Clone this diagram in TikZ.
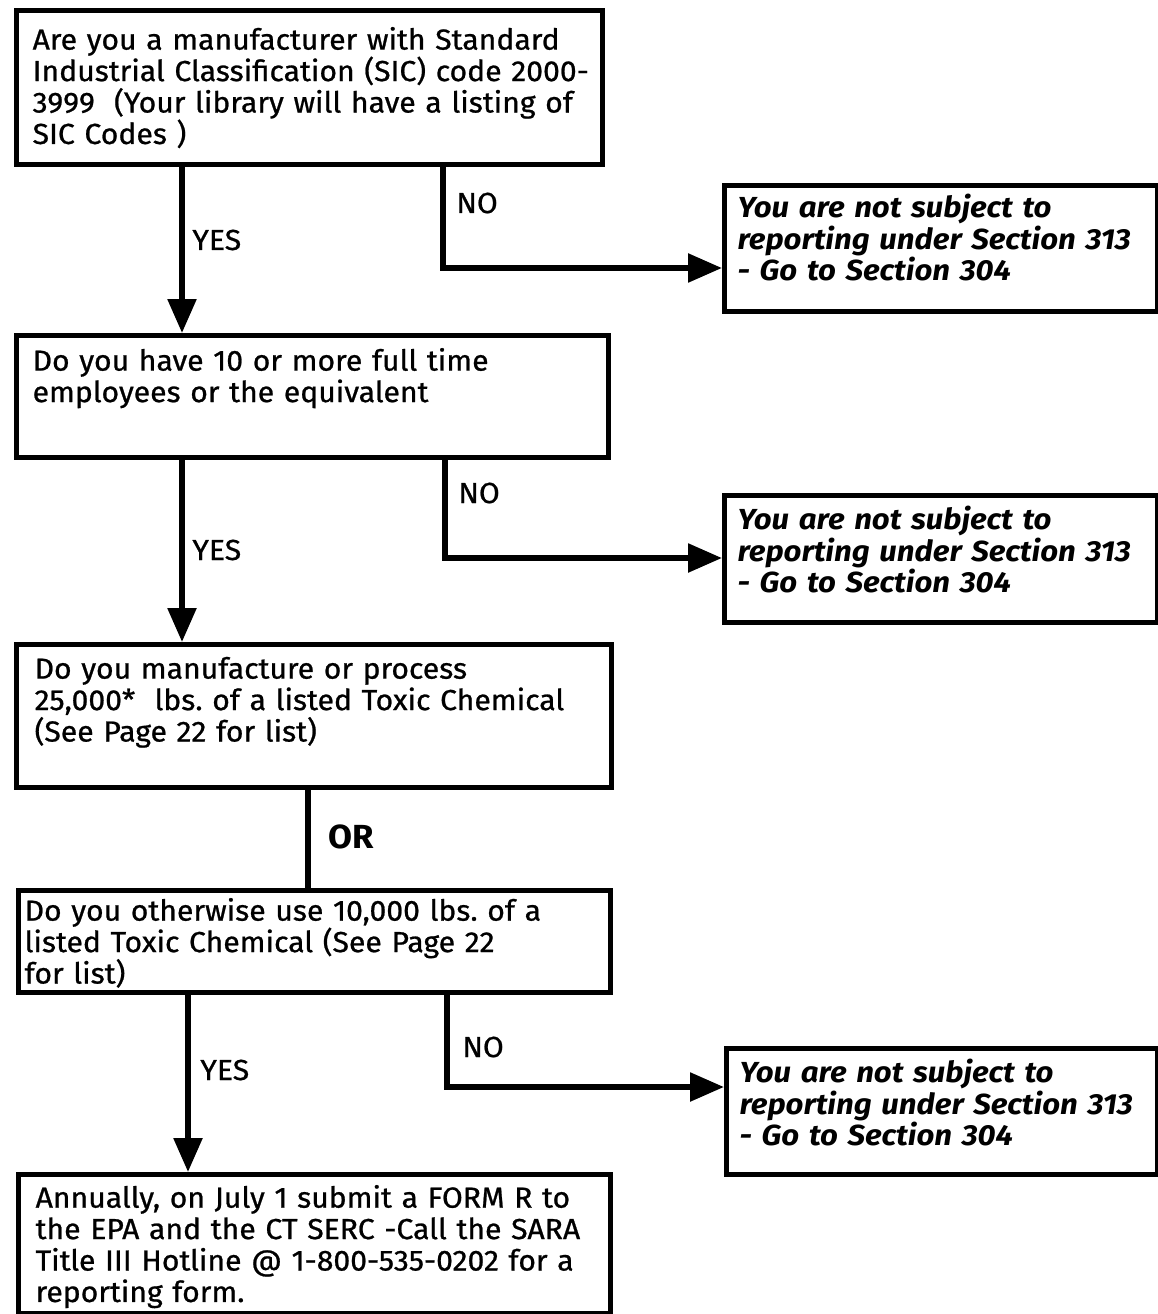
\documentclass[tikz,border=0pt]{standalone}
\usepackage{fontspec}
\setmainfont{Fira Sans}[
  UprightFeatures={FakeBold=0.8, FakeStretch=1.04},
  BoldFeatures={FakeStretch=1.04},
  BoldItalicFeatures={FakeStretch=1.075}]
\usetikzlibrary{arrows.meta}
\frenchspacing
\newcommand{\qfont}{\fontsize{16.5}{17.9}\selectfont}

\begin{document}
\begin{tikzpicture}[x=0.02cm, y=-0.02cm,
  caja/.style={draw, line width=3pt, anchor=north west, inner ysep=0pt, align=left, font=\qfont},
  nocaja/.style={caja, font=\qfont\bfseries\itshape},
  flecha/.style={line width=3.2pt, -{Triangle[length=0.68cm, width=0.56cm]}},
  linea/.style={line width=3.2pt},
  etiq/.style={anchor=base west, inner sep=0pt, font=\qfont}]
  \useasboundingbox (0,0) rectangle (1158,1314);

  % Preguntas de la izquierda
  \node[caja, text width=11.08cm, inner xsep=0.32cm, text height=0.78cm, text depth=2.30cm] (sic) at (14,8)
    {\mbox{Are you a manufacturer with Standard}\\ \mbox{Industrial Classification (SIC) code 2000-}\\
     \mbox{3999\ \ (Your library will have a listing of}\\ \mbox{SIC Codes )}};
  \node[caja, text width=11.2cm, inner xsep=0.32cm, text height=0.70cm, text depth=1.74cm] (empl) at (14,333)
    {\mbox{Do you have 10 or more full time}\\ \mbox{employees or the equivalent}};
  \node[caja, text width=11.18cm, inner xsep=0.36cm, text height=0.68cm, text depth=2.18cm] (manuf) at (14,642)
    {\mbox{Do you manufacture or process}\\ \mbox{25,000*\ \ lbs. of a listed Toxic Chemical}\\
     \mbox{(See Page 22 for list)}};
  \node[caja, text width=11.6cm, inner xsep=0.12cm, text height=0.60cm, text depth=1.44cm] (usa) at (16,888)
    {\mbox{Do you otherwise use 10,000 lbs. of a}\\ \mbox{listed Toxic Chemical (See Page 22}\\
     \mbox{for list)}};
  \node[caja, text width=11.16cm, inner xsep=0.34cm, text height=0.66cm, text depth=2.12cm] (forma) at (16,1172)
    {\mbox{Annually, on July 1 submit a FORM R to}\\ \mbox{the EPA and the CT SERC -Call the SARA}\\
     \mbox{Title III Hotline @ 1-800-535-0202 for a}\\ \mbox{reporting form.}};

  % Cajas de la derecha
  \node[nocaja, text width=8.14cm, inner xsep=0.26cm, text height=0.64cm, text depth=1.88cm] (nsub1) at (722,183)
    {\mbox{You are not subject to}\\ \mbox{reporting under Section 313}\\ \mbox{- Go to Section 304}};
  \node[nocaja, text width=8.14cm, inner xsep=0.26cm, text height=0.68cm, text depth=1.86cm] (nsub2) at (722,493)
    {\mbox{You are not subject to}\\ \mbox{reporting under Section 313}\\ \mbox{- Go to Section 304}};
  \node[nocaja, text width=8.10cm, inner xsep=0.26cm, text height=0.68cm, text depth=1.84cm] (nsub3) at (724,1046)
    {\mbox{You are not subject to}\\ \mbox{reporting under Section 313}\\ \mbox{- Go to Section 304}};

  % Puntos de paso
  \coordinate (si1) at (182,0);
  \coordinate (si2) at (182,0);
  \coordinate (si3) at (188,0);
  \coordinate (orx) at (308,0);
  \coordinate (no1) at (443,268);
  \coordinate (no2) at (445,558);
  \coordinate (no3) at (447,1087);

  % Conexiones
  \draw[flecha] (sic.south -| si1) -- (empl.north -| si1);
  \draw[flecha] (empl.south -| si2) -- (manuf.north -| si2);
  \draw[linea] (manuf.south -| orx) -- (usa.north -| orx);
  \draw[flecha] (usa.south -| si3) -- (forma.north -| si3);
  \draw[flecha] (sic.south -| no1) |- (nsub1.west |- no1);
  \draw[flecha] (empl.south -| no2) |- (nsub2.west |- no2);
  \draw[flecha] (usa.south -| no3) |- (nsub3.west |- no3);

  % Etiquetas
  \node[etiq] (si1t) at (192,250) {YES};
  \node[etiq] (no1t) at (456,213) {NO};
  \node[etiq] (si2t) at (192,560) {YES};
  \node[etiq] (no2t) at (458,503) {NO};
  \node[etiq, font=\fontsize{19}{20}\selectfont\bfseries] (ort) at (328,848) {OR};
  \node[etiq] (si3t) at (200,1080) {YES};
  \node[etiq] (no3t) at (462,1057) {NO};
\end{tikzpicture}
\end{document}
